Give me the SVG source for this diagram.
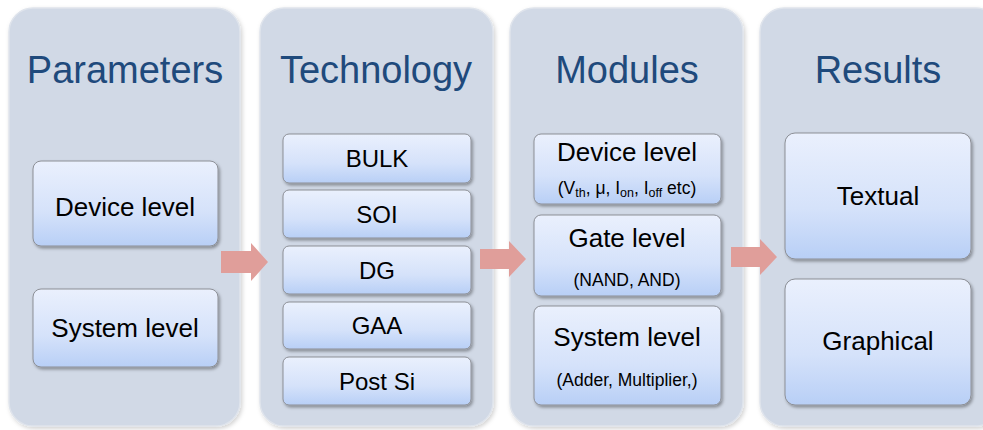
<svg xmlns="http://www.w3.org/2000/svg" width="983" height="430" viewBox="0 0 983 430">
<defs>
<linearGradient id="boxg" x1="0" y1="0" x2="0" y2="1">
<stop offset="0" stop-color="#eaf0fd"/>
<stop offset="0.6" stop-color="#d5e2fa"/>
<stop offset="1" stop-color="#b8cff6"/>
</linearGradient>
<filter id="sh" x="-10%" y="-10%" width="130%" height="130%">
<feDropShadow dx="1.5" dy="2" stdDeviation="1.5" flood-color="#000" flood-opacity="0.35"/>
</filter>
<filter id="psh" x="-10%" y="-10%" width="130%" height="130%">
<feDropShadow dx="1.5" dy="2" stdDeviation="2" flood-color="#000" flood-opacity="0.18"/>
</filter>
<style>
.panel{fill:#d1d9e6;stroke:#dfe4ec;stroke-width:1.5;filter:url(#psh)}
.box{fill:url(#boxg);stroke:#8c8f96;stroke-width:1;filter:url(#sh)}
.title{font-family:"Liberation Sans",Arial,sans-serif;font-size:38px;fill:#1f4a7c;text-anchor:middle}
.lbl{font-family:"Liberation Sans",Arial,sans-serif;font-size:26px;fill:#000;text-anchor:middle}
.tl{font-family:"Liberation Sans",Arial,sans-serif;font-size:24px;fill:#000;text-anchor:middle}
.sub{font-family:"Liberation Sans",Arial,sans-serif;font-size:17.5px;fill:#000;text-anchor:middle}
.arrow{fill:#e09e9a}
</style>
</defs>
<rect width="983" height="430" fill="#ffffff"/>

<g id="parameters">
<rect class="panel" x="9" y="8" width="231" height="418" rx="24"/>
<text class="title" x="125" y="83">Parameters</text>
</g>
<g id="param-device">
<rect class="box" x="33" y="161" width="185" height="85" rx="8"/>
<text class="lbl" x="125" y="216">Device level</text>
</g>
<g id="param-system">
<rect class="box" x="33" y="289" width="185" height="78" rx="8"/>
<text class="lbl" x="125" y="337">System level</text>
</g>

<g id="technology">
<rect class="panel" x="260" y="8" width="233" height="418" rx="24"/>
<text class="title" x="376" y="83">Technology</text>
</g>
<g id="tech-bulk"><rect class="box" x="283" y="134" width="188" height="49" rx="6"/><text class="tl" x="377" y="167">BULK</text></g>
<g id="tech-soi"><rect class="box" x="283" y="190" width="188" height="48" rx="6"/><text class="tl" x="377" y="223">SOI</text></g>
<g id="tech-dg"><rect class="box" x="283" y="246" width="188" height="48" rx="6"/><text class="tl" x="377" y="279">DG</text></g>
<g id="tech-gaa"><rect class="box" x="283" y="302" width="188" height="47" rx="6"/><text class="tl" x="377" y="334">GAA</text></g>
<g id="tech-postsi"><rect class="box" x="283" y="357" width="188" height="48" rx="6"/><text class="tl" x="377" y="390">Post Si</text></g>

<g id="modules">
<rect class="panel" x="510" y="8" width="233" height="418" rx="24"/>
<text class="title" x="627" y="83">Modules</text>
</g>
<g id="mod-device">
<rect class="box" x="534" y="134" width="187" height="70" rx="7"/>
<text class="lbl" x="627" y="161">Device level</text>
<text class="sub" x="627" y="194">(V<tspan font-size="12.5" dy="3">th</tspan><tspan dy="-3">, μ, I</tspan><tspan font-size="12.5" dy="3">on</tspan><tspan dy="-3">, I</tspan><tspan font-size="12.5" dy="3">off</tspan><tspan dy="-3"> etc)</tspan></text>
</g>
<g id="mod-gate">
<rect class="box" x="534" y="215" width="187" height="81" rx="7"/>
<text class="lbl" x="627" y="247">Gate level</text>
<text class="sub" x="627" y="286">(NAND, AND)</text>
</g>
<g id="mod-system">
<rect class="box" x="534" y="306" width="187" height="99" rx="7"/>
<text class="lbl" x="627" y="346">System level</text>
<text class="sub" x="627" y="386">(Adder, Multiplier,)</text>
</g>

<g id="results">
<rect class="panel" x="760" y="8" width="240" height="418" rx="24"/>
<text class="title" x="878" y="83">Results</text>
</g>
<g id="res-textual">
<rect class="box" x="785" y="133" width="186" height="126" rx="10"/>
<text class="lbl" x="878" y="205">Textual</text>
</g>
<g id="res-graphical">
<rect class="box" x="785" y="279" width="186" height="126" rx="10"/>
<text class="lbl" x="878" y="350">Graphical</text>
</g>

<g id="connectors">
<path class="arrow" d="M221,251 H251 V243 L268,262 L251,281 V273 H221 Z"/>
<path class="arrow" d="M480,249 H509 V241 L526,259 L509,277 V269 H480 Z"/>
<path class="arrow" d="M731,247 H760 V239 L777,257 L760,275 V267 H731 Z"/>
</g>
</svg>
